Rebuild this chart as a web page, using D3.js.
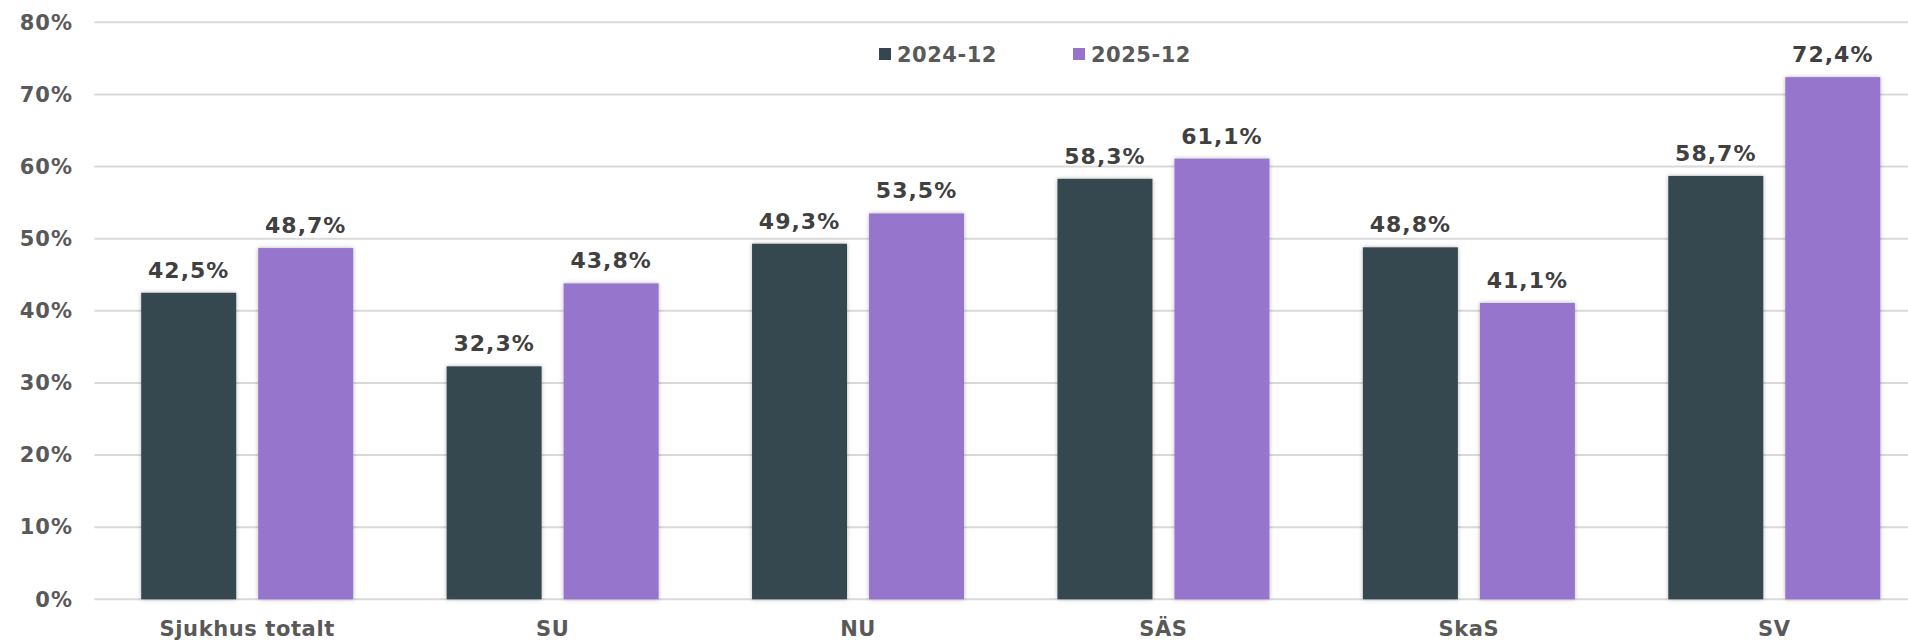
<!DOCTYPE html>
<html>
<head>
<meta charset="utf-8">
<script src="https://cdn.jsdelivr.net/npm/d3@7"></script>
<style>
  html, body { margin: 0; padding: 0; background: #fff; overflow: hidden; }
  svg { display: block; font-family: "DejaVu Sans", Verdana, sans-serif; font-weight: bold; }
</style>
</head>
<body>
<svg id="chart" width="1908" height="641"></svg>
<script>
// Share per hospital, two periods
const categories = ["Sjukhus totalt", "SU", "NU", "SÄS", "SkaS", "SV"];
const seriesNames = ["2024-12", "2025-12"];
const values2024 = [42.5, 32.3, 49.3, 58.3, 48.8, 58.7];
const values2025 = [48.7, 43.8, 53.5, 61.1, 41.1, 72.4];
const yTicks = [0, 10, 20, 30, 40, 50, 60, 70, 80];

const colors = ["#36464f", "#9674cc"];
const series = [values2024, values2025];

const svg = d3.select("#chart");
const plot = { left: 94.5, right: 1927, top: 22.3, bottom: 599.3 };

const x = d3.scaleBand().domain(categories).range([plot.left, plot.right]).paddingInner(0).paddingOuter(0);
const xInner = d3.scaleBand().domain(seriesNames).range([0, 212]).paddingInner(22 / 117);
const y = d3.scaleLinear().domain([0, 80]).range([plot.bottom, plot.top]);

const fmt = v => d3.format(".1f")(v).replace(".", ",") + "%";

// soft shadow around the bars
const defs = svg.append("defs");
const f = defs.append("filter").attr("id", "shadow").attr("x", "-20%").attr("y", "-20%").attr("width", "140%").attr("height", "140%");
f.append("feDropShadow").attr("dx", 0).attr("dy", 0).attr("stdDeviation", 2).attr("flood-color", "#000").attr("flood-opacity", 0.28);

// gridlines
svg.append("g").selectAll("line").data(yTicks).join("line")
  .attr("x1", plot.left).attr("x2", plot.right)
  .attr("y1", d => y(d)).attr("y2", d => y(d))
  .attr("stroke", "#d9d9d9").attr("stroke-width", 2);

// y axis labels
const yAxis = d3.axisLeft(y).tickValues(yTicks).tickFormat(d => d + "%").tickSize(0).tickPadding(0);
const ya = svg.append("g").attr("transform", `translate(73,0)`).call(yAxis);
ya.select(".domain").remove();
ya.selectAll("text").attr("fill", "#595959").attr("font-size", 21)
  .attr("font-family", "DejaVu Sans").attr("font-weight", "bold").attr("letter-spacing", 1);

// bars
const groups = svg.append("g").selectAll("g").data(categories).join("g")
  .attr("transform", d => `translate(${x(d) + x.bandwidth() / 2 - 106},0)`);

groups.each(function (cat, i) {
  const g = d3.select(this);
  seriesNames.forEach((s, k) => {
    const v = series[k][i];
    g.append("rect")
      .attr("x", xInner(s)).attr("width", xInner.bandwidth())
      .attr("y", y(v)).attr("height", y(0) - y(v))
      .attr("fill", colors[k]).attr("filter", "url(#shadow)");
    g.append("text")
      .attr("x", xInner(s) + xInner.bandwidth() / 2)
      .attr("y", y(v) - 15)
      .attr("text-anchor", "middle")
      .attr("fill", "#404040").attr("font-size", 22).attr("letter-spacing", 1)
      .text(fmt(v));
  });
});

// category labels
svg.append("g").selectAll("text").data(categories).join("text")
  .attr("x", d => x(d) + x.bandwidth() / 2)
  .attr("y", 636)
  .attr("text-anchor", "middle")
  .attr("fill", "#595959").attr("font-size", 21).attr("letter-spacing", 0.6)
  .text(d => d);

// legend
const legendX = [879, 1073];
const lg = svg.append("g").selectAll("g").data(seriesNames).join("g")
  .attr("transform", (d, i) => `translate(${legendX[i]},0)`);
lg.append("rect").attr("x", 0).attr("y", 48).attr("width", 12).attr("height", 12).attr("fill", (d, i) => colors[i]);
lg.append("text").attr("x", 18).attr("y", 62).attr("fill", "#595959").attr("font-size", 21).attr("letter-spacing", 0.5).text(d => d);
</script>
</body>
</html>
